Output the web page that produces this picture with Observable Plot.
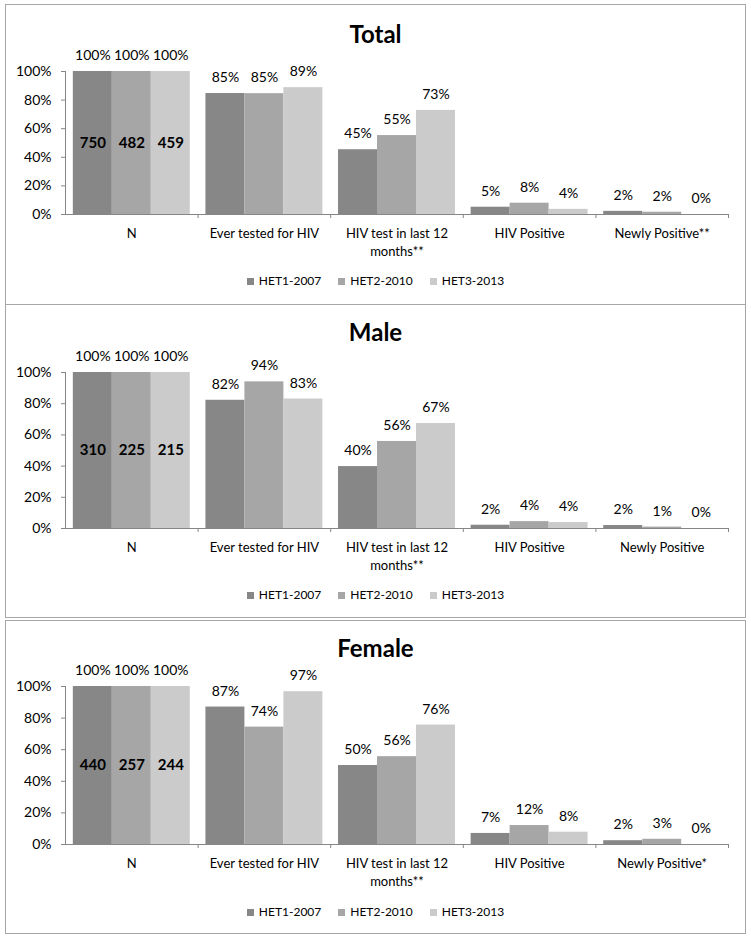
<!DOCTYPE html>
<html>
<head>
<meta charset="utf-8">
<script src="https://cdn.jsdelivr.net/npm/d3@7"></script>
<script src="https://cdn.jsdelivr.net/npm/@observablehq/plot@0.6"></script>
<style>
  body { margin: 0; background: #fff; font-family: Lato, "Open Sans", sans-serif; }
  #root { position: relative; width: 751px; height: 939px; overflow: hidden; }
  .panel { position: absolute; left: 5px; width: 741px; border: 1px solid #a6a6a6; box-sizing: border-box; background: #fff; }
  .title { position: absolute; left: 0; width: 751px; text-align: center; font-weight: bold; font-size: 24px; line-height: 24px; color: #000; }
  .plot { position: absolute; left: 6px; }
  .legend { position: absolute; left: 0; width: 751px; display: flex; justify-content: center; gap: 17px; font-size: 12px; line-height: 14px; color: #000; }
  .legend .item { display: flex; align-items: center; gap: 5px; }
  .legend .sw { width: 7px; height: 7px; display: inline-block; }
</style>
</head>
<body>
<div id="root"></div>
<script>
// ---- data ----
const series = ["HET1-2007", "HET2-2010", "HET3-2013"];
const seriesColors = ["#878787", "#a6a6a6", "#cbcbcb"];

const categoriesTotal  = ["N", "Ever tested for HIV", "HIV test in last 12\nmonths**", "HIV Positive", "Newly Positive**"];
const categoriesMale   = ["N", "Ever tested for HIV", "HIV test in last 12\nmonths**", "HIV Positive", "Newly Positive"];
const categoriesFemale = ["N", "Ever tested for HIV", "HIV test in last 12\nmonths**", "HIV Positive", "Newly Positive*"];

// percentages per category, one array per survey wave
const totalHet1 = [100, 84.6, 45.3, 5.1, 2.2];
const totalHet2 = [100, 84.5, 55.2, 7.9, 1.6];
const totalHet3 = [100, 88.7, 72.8, 3.6, 0];
const totalN    = [750, 482, 459];

const maleHet1 = [100, 82.2, 39.7, 2.1, 1.9];
const maleHet2 = [100, 94.0, 55.8, 4.4, 0.9];
const maleHet3 = [100, 83.0, 67.3, 3.8, 0];
const maleN    = [310, 225, 215];

const femaleHet1 = [100, 87.0, 50.0, 7.0, 2.4];
const femaleHet2 = [100, 74.3, 55.6, 12.0, 3.3];
const femaleHet3 = [100, 96.7, 75.6, 7.8, 0];
const femaleN    = [440, 257, 244];

// ---- layout per panel ----
const panels = [
  { title: "Total",  cats: categoriesTotal,  vals: [totalHet1, totalHet2, totalHet3],   n: totalN,
    boxTop: 4,   boxH: 301, titleTop: 22,  svgTop: 45,  mTop: 26, mBottom: 44, svgH: 213, legendTop: 274 },
  { title: "Male",   cats: categoriesMale,   vals: [maleHet1, maleHet2, maleHet3],      n: maleN,
    boxTop: 304, boxH: 314, titleTop: 320, svgTop: 345, mTop: 27, mBottom: 45, svgH: 228, legendTop: 588 },
  { title: "Female", cats: categoriesFemale, vals: [femaleHet1, femaleHet2, femaleHet3], n: femaleN,
    boxTop: 620, boxH: 314, titleTop: 636, svgTop: 660, mTop: 26, mBottom: 45, svgH: 229, legendTop: 905 }
];

const root = document.getElementById("root");
const pad = 0.059;                 // share of a category band left empty on each side
const bw = (1 - 2 * pad) / 3;      // share of a category band per bar

for (const p of panels) {
  const box = document.createElement("div");
  box.className = "panel";
  box.style.top = p.boxTop + "px";
  box.style.height = p.boxH + "px";
  root.appendChild(box);

  const t = document.createElement("div");
  t.className = "title";
  t.style.top = p.titleTop + "px";
  t.textContent = p.title;
  root.appendChild(t);

  const rows = p.cats.flatMap((c, ci) => series.map((s, si) => ({ ci, si, series: s, value: p.vals[si][ci] })));
  const nRows = series.map((s, si) => ({ ci: 0, si, series: s, value: p.vals[si][0], n: p.n[si] }));
  const catRows = p.cats.map((c, ci) => ({ ci, label: c }));

  const x1 = d => d.ci + pad + d.si * bw;
  const x2 = d => d.ci + pad + (d.si + 1) * bw;
  const xc = d => d.ci + pad + (d.si + 0.5) * bw;

  const chart = Plot.plot({
    width: 738,
    height: p.svgH,
    marginLeft: 59,
    marginRight: 16,
    marginTop: p.mTop,
    marginBottom: p.mBottom,
    x: { domain: [0, p.cats.length], axis: null },
    y: { domain: [0, 100], axis: null },
    color: { domain: series, range: seriesColors },
    style: { fontFamily: "Lato, 'Open Sans', sans-serif", fontSize: "14px", color: "#000", background: "transparent", overflow: "visible" },
    marks: [
      Plot.rectY(rows, { x1, x2, y: "value", fill: "series" }),
      Plot.axisY({ ticks: [0, 20, 40, 60, 80, 100], label: null, tickSize: 4, tickPadding: 10, tickFormat: d => d + "%", stroke: "#868686", fill: "#000", fontSize: 14 }),
      Plot.axisX({ ticks: d3.range(1, p.cats.length + 1), label: null, tickSize: 4, tickFormat: () => "", stroke: "#868686" }),
      Plot.ruleY([0], { stroke: "#868686" }),
      Plot.ruleX([0], { y1: 0, y2: 100, stroke: "#868686" }),
      Plot.text(rows, { x: xc, y: "value", text: d => Math.round(d.value) + "%", dy: -16, fill: "#000", fontSize: 14 }),
      Plot.text(nRows, { x: xc, y: d => d.value / 2, text: d => String(d.n), fill: "#000", fontSize: 15, fontWeight: "bold" }),
      Plot.text(catRows, { x: d => d.ci + 0.5, y: () => 0, text: "label", dy: 11, lineAnchor: "top", lineHeight: 1.35, fill: "#000", fontSize: 13 })
    ]
  });
  chart.classList.add("plot");
  chart.style.top = p.svgTop + "px";
  chart.style.position = "absolute";
  chart.style.left = "6px";
  root.appendChild(chart);

  const lg = document.createElement("div");
  lg.className = "legend";
  lg.style.top = p.legendTop + "px";
  series.forEach((s, i) => {
    const it = document.createElement("span");
    it.className = "item";
    const sw = document.createElement("span");
    sw.className = "sw";
    sw.style.background = seriesColors[i];
    const tx = document.createElement("span");
    tx.textContent = s;
    it.appendChild(sw);
    it.appendChild(tx);
    lg.appendChild(it);
  });
  root.appendChild(lg);
}
</script>
</body>
</html>
